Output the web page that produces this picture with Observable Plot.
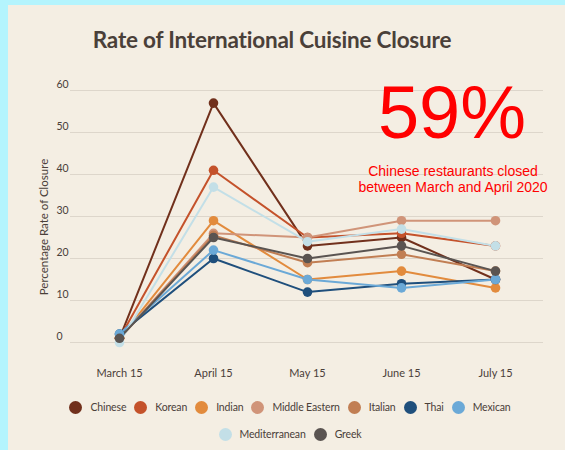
<!DOCTYPE html>
<html>
<head>
<meta charset="utf-8">
<script src="https://cdn.jsdelivr.net/npm/d3@7"></script>
<script src="https://cdn.jsdelivr.net/npm/@observablehq/plot@0.6"></script>
<style>
  html, body { margin: 0; padding: 0; }
  body { width: 565px; height: 450px; background: #b4f4fd; position: relative; overflow: hidden; font-family: Lato, "Open Sans", sans-serif; }
  #panel { position: absolute; left: 8px; top: 5px; width: 557px; height: 445px; background: #f4eee3; }
  #title { position: absolute; left: 272px; top: 26px; transform: translateX(-50%); white-space: nowrap; font-weight: 700; font-size: 22.5px; color: #4a4039; margin: 0; letter-spacing: -0.2px; }
  #chart { position: absolute; left: 0; top: 60px; }
  #ylabel { position: absolute; left: 43px; top: 227px; transform: translate(-50%, -50%) rotate(-90deg); white-space: nowrap; font-size: 11.5px; color: #4a4039; }
  #big { position: absolute; left: 452px; top: 76px; transform: translateX(-50%); font-family: "Liberation Sans", Arial, sans-serif; font-size: 74px; line-height: 74px; color: #ff0000; white-space: nowrap; }
  #sub { position: absolute; left: 453px; top: 163px; transform: translateX(-50%); font-family: "Liberation Sans", Arial, sans-serif; font-size: 14px; line-height: 16px; color: #ff0000; text-align: center; white-space: nowrap; }
  #legend { position: absolute; left: 50px; width: 480px; top: 398px; display: flex; flex-wrap: wrap; justify-content: center; row-gap: 9px; }
  .item { display: flex; align-items: center; margin: 0 4px; font-size: 10.5px; letter-spacing: -0.15px; color: #4a4039; height: 18px; }
  .sw { width: 13px; height: 13px; border-radius: 50%; margin-right: 8px; }
</style>
</head>
<body>
<div id="panel"></div>
<h1 id="title">Rate of International Cuisine Closure</h1>
<div id="chart"></div>
<div id="ylabel">Percentage Rate of Closure</div>
<div id="big">59%</div>
<div id="sub">Chinese restaurants closed<br>between March and April 2020</div>
<div id="legend"></div>
<script>
const dates = ["March 15", "April 15", "May 15", "June 15", "July 15"];
const cuisines = ["Chinese", "Korean", "Indian", "Middle Eastern", "Italian", "Thai", "Mexican", "Mediterranean", "Greek"];
const colors = ["#71301c", "#c4522b", "#e28b3d", "#d09479", "#c17e53", "#1f4f7c", "#6ba9d7", "#c3dfe7", "#5a5451"];
const yTicks = [0, 10, 20, 30, 40, 50, 60];

const chinese       = [1, 57, 23, 25, 15];
const korean        = [1, 41, 25, 26, 23];
const indian        = [1, 29, 15, 17, 13];
const middleEastern = [1, 26, 25, 29, 29];
const italian       = [1, 25.5, 19, 21, 17];
const thai          = [2, 20, 12, 14, 15];
const mexican       = [2, 22, 15, 13, 15];
const mediterranean = [0, 37, 24, 27, 23];
const greek         = [1, 25, 20, 23, 17];

const series = [chinese, korean, indian, middleEastern, italian, thai, mexican, mediterranean, greek];
const data = series.flatMap((vals, i) => vals.map((v, j) => ({cuisine: cuisines[i], date: dates[j], value: v})));

const chart = Plot.plot({
  width: 565,
  height: 330,
  marginLeft: 70,
  marginRight: 22,
  marginTop: 30,
  marginBottom: 48,
  style: {background: "transparent", fontFamily: "Lato, 'Open Sans', sans-serif", color: "#4a4039"},
  x: {type: "point", domain: dates, padding: 0.5, label: null},
  y: {domain: [0, 60], label: null},
  color: {domain: cuisines, range: colors},
  marks: [
    Plot.gridY(yTicks, {stroke: "#ddd6cb", strokeOpacity: 1, strokeWidth: 1.2}),
    Plot.axisY(yTicks, {tickSize: 0, tickPadding: 14, textAnchor: "start", dy: -6, fontSize: 10.5, label: null}),
    Plot.axisX({tickSize: 0, tickPadding: 27, fontSize: 11, label: null}),
    Plot.line(data, {x: "date", y: "value", z: "cuisine", stroke: "cuisine", strokeWidth: 2}),
    Plot.dot(data, {x: "date", y: "value", fill: "cuisine", r: 4.8})
  ]
});
document.getElementById("chart").appendChild(chart);

const legend = document.getElementById("legend");
cuisines.forEach((c, i) => {
  const it = document.createElement("div");
  it.className = "item";
  const sw = document.createElement("div");
  sw.className = "sw";
  sw.style.background = colors[i];
  it.appendChild(sw);
  it.appendChild(document.createTextNode(c));
  legend.appendChild(it);
});
</script>
</body>
</html>
